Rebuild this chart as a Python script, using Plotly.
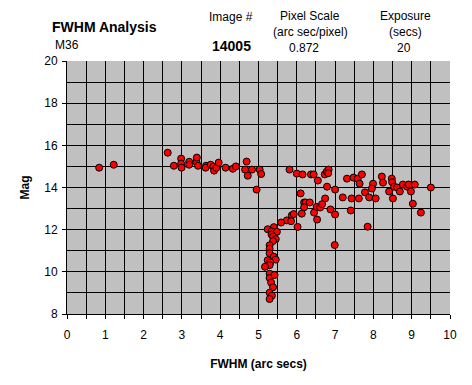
import plotly.graph_objects as go

fwhm = [0.84, 1.22, 2.63, 2.79, 2.98, 2.98, 2.99, 3.19, 3.19, 3.38, 3.39, 3.42, 3.63, 3.62, 3.75,
        3.82, 3.84, 3.90, 3.96, 4.14, 4.33, 4.41, 4.69, 4.65, 4.72, 4.83, 5.03, 5.07, 4.95,
        5.81, 6.00, 6.15, 6.37, 6.44, 6.55, 6.73, 6.78, 6.83, 6.82, 6.79, 7.00, 6.10,
        6.19, 6.23, 6.34, 6.74, 6.19, 6.13, 6.45, 6.52, 6.61, 6.66, 6.88, 7.00, 6.53, 6.02,
        5.87, 5.92, 5.74, 5.85, 5.59, 5.40, 5.24, 6.99,
        5.34, 5.48, 5.34, 5.38, 5.45, 5.38, 5.29, 5.29, 5.29, 5.40, 5.24, 5.45, 5.31, 5.29,
        5.17, 5.29, 5.29, 5.42, 5.33, 5.38, 5.29, 5.35, 5.29,
        7.31, 7.48, 7.59, 7.64, 7.70, 7.99, 7.96, 8.22, 8.25, 8.48, 8.49, 8.41, 8.54, 8.62,
        8.69, 8.77, 8.88, 8.92, 8.98, 9.08, 9.03, 9.24, 9.50, 7.20, 7.43, 7.62, 7.78, 7.89,
        8.06, 8.51, 7.41, 7.85]
mag = [14.94, 15.08, 15.65, 15.03, 15.37, 15.13, 14.94, 15.22, 15.08, 15.21, 15.42, 15.03, 15.03, 14.94, 15.08,
       14.98, 14.80, 14.93, 15.18, 14.94, 14.89, 15.00, 15.23, 14.85, 14.56, 14.85, 14.85, 14.64, 13.90,
       14.85, 14.66, 14.62, 14.62, 14.62, 14.33, 14.62, 14.75, 14.85, 14.68, 14.04, 13.90, 13.72,
       13.29, 13.29, 13.29, 13.48, 13.06, 12.76, 12.81, 13.08, 13.05, 13.21, 12.96, 12.72, 12.48, 12.13,
       12.68, 12.74, 12.44, 12.40, 12.34, 12.12, 12.02, 11.27,
       11.92, 11.90, 11.77, 11.67, 11.55, 11.46, 11.26, 11.10, 10.88, 10.72, 10.55, 10.58, 10.45, 10.32,
       10.24, 9.91, 9.71, 9.85, 9.49, 9.27, 9.01, 8.87, 8.71,
       14.42, 14.47, 14.42, 14.18, 14.62, 14.18, 13.95, 14.52, 14.23, 14.42, 14.25, 13.81, 14.04, 14.00,
       13.81, 14.14, 14.04, 14.14, 13.81, 14.14, 13.23, 12.81, 14.00, 13.53, 13.48, 13.48, 13.77, 13.53,
       13.48, 13.48, 12.91, 12.14]

title = "FWHM Analysis"
target = "M36"
image_no = "14005"
pixel_scale = "0.872"
exposure = "20"

FONT = "Liberation Sans, Arial, sans-serif"

fig = go.Figure(go.Scatter(
    x=fwhm, y=mag, mode="markers",
    marker=dict(symbol="circle", size=7, color="#ff0000", line=dict(color="black", width=1)),
    showlegend=False, hoverinfo="x+y"))

axis_common = dict(
    showgrid=True, gridcolor="black", gridwidth=1,
    showline=True, linecolor="black", linewidth=1,
    ticks="outside", ticklen=4, tickcolor="black",
    zeroline=False, mirror=False,
    tickfont=dict(family=FONT, size=12, color="black"),
)

# page offset of 8px (default body margin) compensated by figure size/margins
fig.update_layout(
    width=464, height=377,
    margin=dict(l=59, r=22, t=53, b=71),
    paper_bgcolor="white", plot_bgcolor="#c0c0c0",
    font=dict(family=FONT, size=12, color="black"),
    xaxis=dict(range=[0, 10], dtick=1, tick0=0, ticklabelstandoff=6,
               minor=dict(dtick=0.5, showgrid=True, gridcolor="black", gridwidth=1,
                          ticks="outside", ticklen=4, tickcolor="black"),
               title=dict(text="<b>FWHM (arc secs)</b>", font=dict(family=FONT, size=12), standoff=18),
               **axis_common),
    yaxis=dict(range=[8, 20], dtick=2, tick0=8, ticklabelstandoff=2,
               minor=dict(dtick=1, showgrid=True, gridcolor="black", gridwidth=1),
               title=dict(text="<b>Mag</b>", font=dict(family=FONT, size=12), standoff=12),
               **axis_common),
)

anns = [
    dict(x=50, y=27, text=f"<b>{title}</b>", size=14, xanchor="left"),
    dict(x=53, y=45, text=target, size=12, xanchor="left"),
    dict(x=231, y=17, text="Image #", size=12, xanchor="center"),
    dict(x=231, y=46, text=f"<b>{image_no}</b>", size=14, xanchor="center"),
    dict(x=310, y=16, text="Pixel Scale", size=12, xanchor="center"),
    dict(x=310, y=32, text="(arc sec/pixel)", size=12, xanchor="center"),
    dict(x=304, y=48, text=pixel_scale, size=12, xanchor="center"),
    dict(x=405, y=16, text="Exposure", size=12, xanchor="center"),
    dict(x=405, y=32, text="(secs)", size=12, xanchor="center"),
    dict(x=404, y=48, text=exposure, size=12, xanchor="center"),
]
# positions given in page pixels; convert to plot-area paper coordinates
pl, pr, pt, pb = 67, 450, 61, 314
new = []
for a in anns:
    new.append(dict(
        x=(a["x"] - pl) / (pr - pl), y=(pb - a["y"]) / (pb - pt),
        xref="paper", yref="paper", text=a["text"], showarrow=False,
        xanchor=a["xanchor"], yanchor="middle",
        font=dict(family=FONT, size=a["size"], color="black")))
fig.layout.annotations = new

fig.write_html("out.html")
